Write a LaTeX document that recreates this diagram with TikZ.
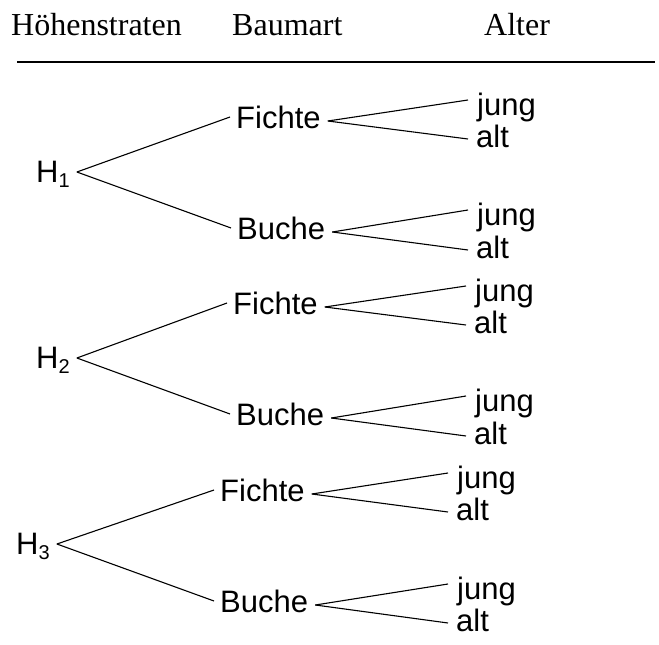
\documentclass[tikz,border=0pt]{standalone}
\usepackage{fontspec}
\setmainfont{Liberation Serif}
\newfontfamily\treefont{Liberation Sans}
\newcommand\hsub[1]{\raisebox{-5pt}{\fontsize{20}{20}\selectfont #1}}
\begin{document}
\begin{tikzpicture}[x=1pt,y=-1pt,
  lbl/.style={inner sep=0pt, anchor=base west, font=\treefont\fontsize{31}{36}\selectfont},
  head/.style={inner sep=0pt, anchor=base west, font=\fontsize{32}{38}\selectfont},
  branch/.style={line width=1.1pt}]
\useasboundingbox (0,0) rectangle (659,645);
% header
\node[head] (t1) at (11,35) {Höhenstraten};
\node[head] (t2) at (232,35) {Baumart};
\node[head] (t3) at (484,35) {Alter};
\coordinate (rl) at (17,62);
\coordinate (rr) at (655,62);
\draw[line width=2pt] (rl) -- (rr);
% group 1
\node[lbl] (H1) at (36,182) {H\hsub{1}};
\node[lbl] (F1) at (236,128) {Fichte};
\node[lbl] (B1) at (237,239) {Buche};
\node[lbl] (J1a) at (477,115) {jung};
\node[lbl] (A1a) at (476,147) {alt};
\node[lbl] (J1b) at (477,225) {jung};
\node[lbl] (A1b) at (476,258) {alt};
% group 2
\node[lbl] (H2) at (36,368) {H\hsub{2}};
\node[lbl] (F2) at (233,314) {Fichte};
\node[lbl] (B2) at (236,425) {Buche};
\node[lbl] (J2a) at (475,301) {jung};
\node[lbl] (A2a) at (474,333) {alt};
\node[lbl] (J2b) at (475,411) {jung};
\node[lbl] (A2b) at (474,444) {alt};
% group 3
\node[lbl] (H3) at (16,554) {H\hsub{3}};
\node[lbl] (F3) at (220,501) {Fichte};
\node[lbl] (B3) at (220,612) {Buche};
\node[lbl] (J3a) at (457,488) {jung};
\node[lbl] (A3a) at (456,520) {alt};
\node[lbl] (J3b) at (457,599) {jung};
\node[lbl] (A3b) at (456,631) {alt};
% connectors
\foreach \g in {1,2,3}{
  \draw[branch] ([xshift=7pt,yshift=10pt]H\g.base east) -- ([xshift=-6pt,yshift=11pt]F\g.base west);
  \draw[branch] ([xshift=7pt,yshift=10pt]H\g.base east) -- ([xshift=-6pt,yshift=11pt]B\g.base west);
  \draw[branch] ([xshift=7pt,yshift=7pt]F\g.base east) -- ([xshift=-9pt,yshift=15pt]J\g a.base west);
  \draw[branch] ([xshift=7pt,yshift=7pt]F\g.base east) -- ([xshift=-8pt,yshift=8pt]A\g a.base west);
  \draw[branch] ([xshift=7pt,yshift=7pt]B\g.base east) -- ([xshift=-9pt,yshift=15pt]J\g b.base west);
  \draw[branch] ([xshift=7pt,yshift=7pt]B\g.base east) -- ([xshift=-8pt,yshift=8pt]A\g b.base west);
}
\end{tikzpicture}
\end{document}
